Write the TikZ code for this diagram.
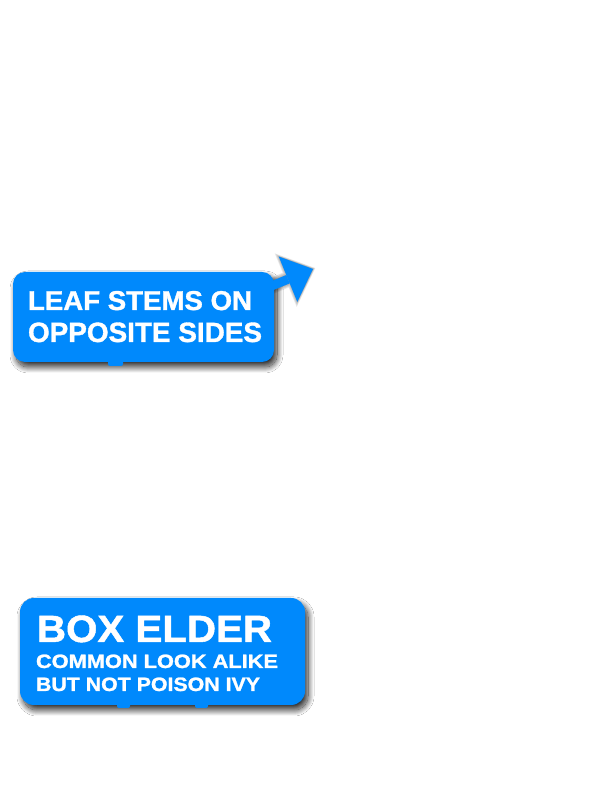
\documentclass[tikz,border=0pt]{standalone}
\usepackage{fontspec}
\setmainfont{Liberation Sans}[BoldFeatures={FakeBold=1.2}]
\usetikzlibrary{shadows.blur,arrows.meta}
\definecolor{calloutblue}{RGB}{0,137,252}
\begin{document}
\begin{tikzpicture}[x=1pt,y=1pt,
  callout/.style={fill=calloutblue, inner sep=0pt, outer sep=0pt,
    blur shadow={shadow xshift=3pt, shadow yshift=-5pt, shadow blur radius=6pt,
      shadow opacity=85, shadow blur steps=24}},
  txt/.style={anchor=base west, inner sep=0pt, outer sep=0pt, text=white, font=\bfseries},
  pointer/.style={draw=calloutblue, line width=9pt,
    -{Triangle[width=49pt,length=27pt,line width=0pt]}},
  nub/.style={fill=calloutblue, rounded corners=2pt}]
\fill[white] (0,0) rectangle (600,800);
\useasboundingbox (0,0) rectangle (600,800);

% arrow endpoints
\coordinate (arrowstart) at (270,513.4);
\coordinate (arrowtip) at (313,531);

% fake blurred shadow of the arrow
\foreach \w/\tw/\tl/\s in {16/58/32/-2.5pt, 14/55/30.5/-1.8pt, 12/52/29/-1.1pt, 10/50/27.5/-0.5pt, 8/47/26/0pt}{
  \draw[black, opacity=0.09, line width=\w pt, shift={(3,-4)}, shorten >=\s,
    -{Triangle[width=\tw pt,length=\tl pt,line width=0pt]}] (arrowstart) -- (arrowtip);
}

% box 1
\node[callout, rounded corners=12pt, minimum width=261pt, minimum height=90pt] (box1) at (143.5,483) {};
\fill[nub] (108,434) rectangle (123,441);
\draw[pointer] (arrowstart) -- (arrowtip);
\node[txt] (l1a) at (28,490) {\resizebox{224pt}{19pt}{LEAF STEMS ON}};
\node[txt] (l1b) at (28,458) {\resizebox{234pt}{19.5pt}{OPPOSITE SIDES}};

% box 2
\node[callout, rounded corners=14pt, minimum width=285pt, minimum height=107pt] (box2) at (162.5,148.5) {};
\fill[nub] (117,92) rectangle (130,98);
\fill[nub] (195,92) rectangle (208,98);
\node[txt] (l2a) at (37,158) {\resizebox{235pt}{26.5pt}{BOX ELDER}};
\node[txt] (l2b) at (36,132) {\resizebox{242pt}{13.5pt}{COMMON LOOK ALIKE}};
\node[txt] (l2c) at (36,109) {\resizebox{224pt}{13.5pt}{BUT NOT POISON IVY}};
\end{tikzpicture}
\end{document}
